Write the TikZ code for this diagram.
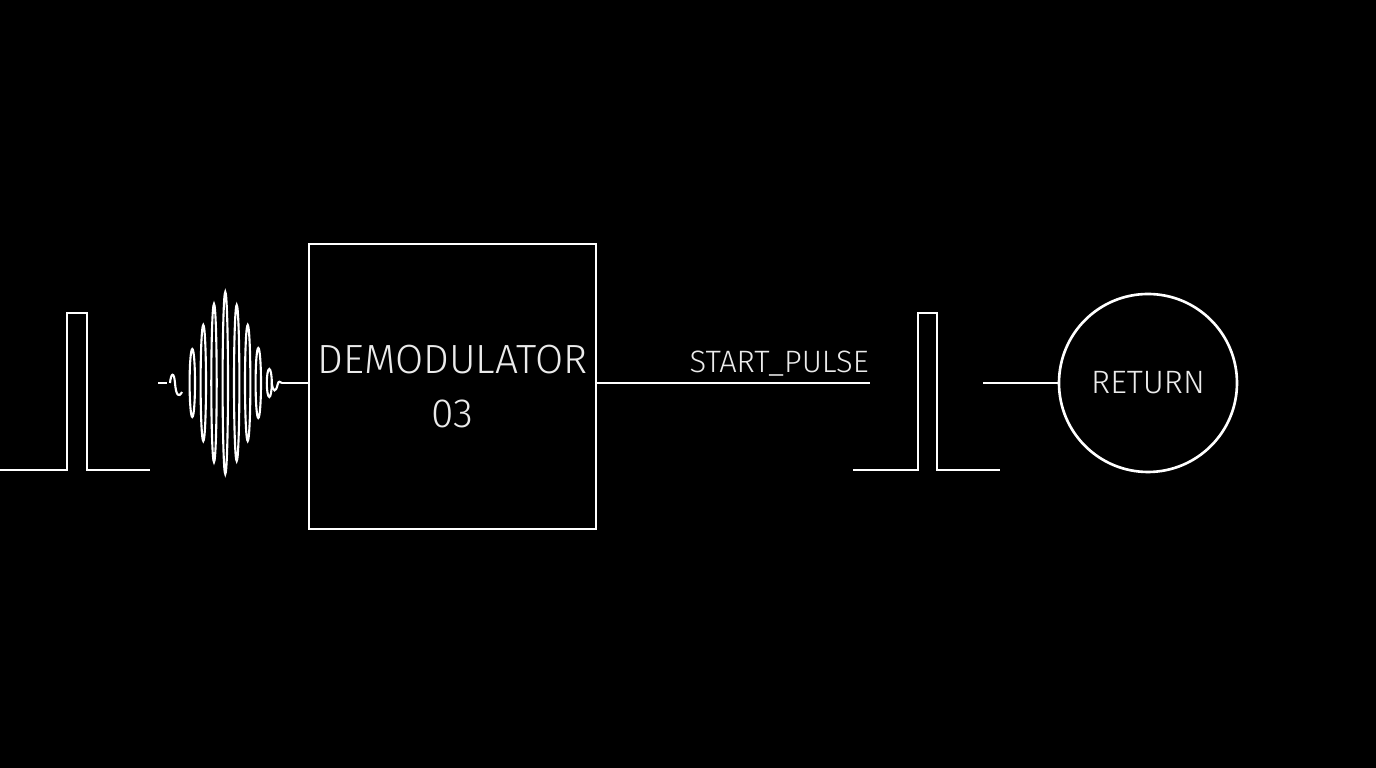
\documentclass[tikz,border=0pt]{standalone}
\usepackage{fontspec}
\setmainfont{Fira Sans Light}
\usepackage{xcolor}
\usepackage{tikz}
\usetikzlibrary{calc}
\usetikzlibrary{positioning}

\begin{document}
\begin{tikzpicture}[-,line width=0.75pt,draw=white,auto,node distance=2.5cm]
 \tikzstyle{blk}=[draw=white, rectangle, inner xsep=0pt, minimum width=2.87cm, minimum height=2.85cm, align=center, text=white!92!black, font=\fontsize{11.6}{15.5}\selectfont]
 \tikzstyle{ret}=[draw=white, circle, minimum size=1.78cm, inner sep=0pt, text=white!92!black, font=\fontsize{9.2}{11}\selectfont]
 \tikzstyle{lbl}=[text=white!92!black, inner sep=0pt, font=\fontsize{8.8}{10}\selectfont]
 \tikzstyle{sig}=[draw=white, line width=0.75pt]
 \tikzstyle{burst}=[draw=white, line width=0.6pt]
 % page and background
 \fill[black] (0,0) rectangle (13.76,7.68);
 \useasboundingbox (0,0) rectangle (13.76,7.68);
  \node[blk]   (demod) at (4.525,3.815) {DEMODULATOR\\03};
  \node[ret]   (back)  at (11.48,3.85)   {RETURN};
  \coordinate  (wend)  at (2.82,3.85);
  \coordinate  (sp)    at (8.70,3.85);
  \coordinate  (pend)  at (9.83,3.85);
  \node[lbl, anchor=base east] (splbl) at (8.70,3.95) {START\_PULSE};
  % input pulse
  \draw[sig] (0,2.98) -- (0.67,2.98) -- (0.67,4.55) -- (0.87,4.55) -- (0.87,2.98) -- (1.50,2.98);
  % modulated burst
  \draw[burst] (1.58,3.85) -- (1.67,3.85);
  \draw[burst] (1.70,3.85) .. controls (1.71,3.95) and (1.74,3.97) .. (1.75,3.85)
        .. controls (1.76,3.72) and (1.79,3.70) .. (1.82,3.76);
  \draw[burst] (1.923,3.85) ellipse (0.027 and 0.34)
               (2.033,3.85) ellipse (0.027 and 0.58)
               (2.140,3.85) ellipse (0.027 and 0.79)
               (2.253,3.85) ellipse (0.027 and 0.91)
               (2.367,3.85) ellipse (0.027 and 0.78)
               (2.477,3.85) ellipse (0.027 and 0.58)
               (2.583,3.85) ellipse (0.027 and 0.35)
               (2.693,3.85) ellipse (0.025 and 0.14);
  \draw[burst] (2.718,3.85) .. controls (2.73,3.75) and (2.76,3.76) .. (2.775,3.83)
        .. controls (2.785,3.88) and (2.80,3.86) .. (wend);
  % output pulse
  \draw[sig] (8.53,2.98) -- (9.18,2.98) -- (9.18,4.55) -- (9.37,4.55) -- (9.37,2.98) -- (10.00,2.98);
  \path[draw=white]
       (wend) edge (wend -| demod.west)
       (sp -| demod.east) edge (sp)
       (pend) edge (back.west);
\end{tikzpicture}
\end{document}
